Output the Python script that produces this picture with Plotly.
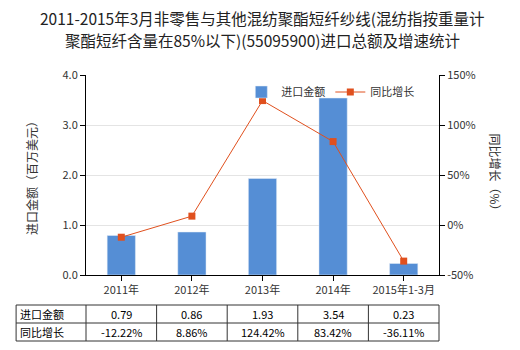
import plotly.graph_objects as go

categories = ["2011年", "2012年", "2013年", "2014年", "2015年1-3月"]
import_values = [0.79, 0.86, 1.93, 3.54, 0.23]
growth_values = [-12.22, 8.86, 124.42, 83.42, -36.11]
import_labels = ["0.79", "0.86", "1.93", "3.54", "0.23"]
growth_labels = ["-12.22%", "8.86%", "124.42%", "83.42%", "-36.11%"]
left_ticks = [0, 1, 2, 3, 4]
left_tick_text = ["0.0", "1.0", "2.0", "3.0", "4.0"]
right_ticks = [-50, 0, 50, 100, 150]
right_tick_text = ["-50%", "0%", "50%", "100%", "150%"]
title_lines = ["2011-2015年3月非零售与其他混纺聚酯短纤纱线(混纺指按重量计",
               "聚酯短纤含量在85%以下)(55095900)进口总额及增速统计"]

FONT = "Noto Sans CJK SC, Microsoft YaHei, sans-serif"
BAR_COLOR = "#558ED5"
LINE_COLOR = "#E0501E"

fig = go.Figure()
fig.add_trace(go.Bar(
    x=categories, y=import_values, name="进口金额",
    marker=dict(color=BAR_COLOR), width=0.4, yaxis="y",
))
fig.add_trace(go.Scatter(
    x=categories, y=growth_values, name="同比增长", yaxis="y2",
    mode="lines+markers",
    line=dict(color=LINE_COLOR, width=1),
    marker=dict(symbol="square", size=7, color=LINE_COLOR),
))

fig.update_layout(
    width=520, height=350,
    margin=dict(l=86, r=81, t=75, b=75),
    paper_bgcolor="white", plot_bgcolor="white",
    font=dict(family=FONT, size=11, color="#333"),
    showlegend=True,
    legend=dict(
        orientation="h", x=0.44, y=0.915, xanchor="left", yanchor="middle",
        bgcolor="rgba(0,0,0,0)", font=dict(size=11, color="#333"),
        itemwidth=30,
    ),
    xaxis=dict(
        type="category", showline=True, linecolor="#000", linewidth=1,
        ticks="outside", ticklen=5, tickcolor="#000",
        tickfont=dict(size=11, color="#333"), showgrid=False,
    ),
    yaxis=dict(
        range=[0, 4], tickvals=left_ticks, ticktext=left_tick_text,
        showline=True, linecolor="#000", linewidth=1,
        ticks="outside", ticklen=5, tickcolor="#000",
        showgrid=True, gridcolor="#e4e4e4", zeroline=False,
        tickfont=dict(size=11, color="#333"),
        title=dict(text="进口金额（百万美元）", font=dict(size=12, color="#333"), standoff=22),
    ),
    yaxis2=dict(
        range=[-50, 150], tickvals=right_ticks, ticktext=right_tick_text,
        overlaying="y", side="right",
        showline=True, linecolor="#000", linewidth=1,
        ticks="outside", ticklen=5, tickcolor="#000",
        showgrid=False, zeroline=False,
        tickfont=dict(size=11, color="#333"),
    ),
)

# title lines
for txt, yy in zip(title_lines, [1.285, 1.175]):
    fig.add_annotation(text=txt, xref="paper", yref="paper", x=0.5, y=yy,
                       xanchor="center", yanchor="middle", showarrow=False,
                       font=dict(family=FONT, size=15.5, color="#222"))

# right axis title, reading top to bottom
fig.add_annotation(
    text="同比增长（%）", textangle=90, xref="paper", yref="paper",
    x=1.19, y=0.5, showarrow=False, font=dict(size=12, color="#333"),
)

# data table below the chart
n = len(categories)
col_edges = [i / n for i in range(n + 1)]
x_left = -0.198
y_top, y_mid, y_bot = -0.15, -0.24, -0.33
line_style = dict(color="#333", width=1)
for yy in (y_top, y_mid, y_bot):
    fig.add_shape(type="line", xref="paper", yref="paper", x0=x_left, x1=1, y0=yy, y1=yy, line=line_style)
for xx in [x_left] + col_edges:
    fig.add_shape(type="line", xref="paper", yref="paper", x0=xx, x1=xx, y0=y_top, y1=y_bot, line=line_style)

row_labels = ["进口金额", "同比增长"]
row_values = [import_labels, growth_labels]
row_y = [(y_top + y_mid) / 2, (y_mid + y_bot) / 2]
for label, vals, yy in zip(row_labels, row_values, row_y):
    fig.add_annotation(text=label, xref="paper", yref="paper", x=x_left + 0.005, y=yy,
                       xanchor="left", yanchor="middle", showarrow=False,
                       font=dict(size=11, color="#000"))
    for cat, v in zip(categories, vals):
        fig.add_annotation(text=v, xref="x", yref="paper", x=cat, y=yy,
                           xanchor="center", yanchor="middle", showarrow=False,
                           font=dict(size=11, color="#000"))

fig.write_html("out.html")
